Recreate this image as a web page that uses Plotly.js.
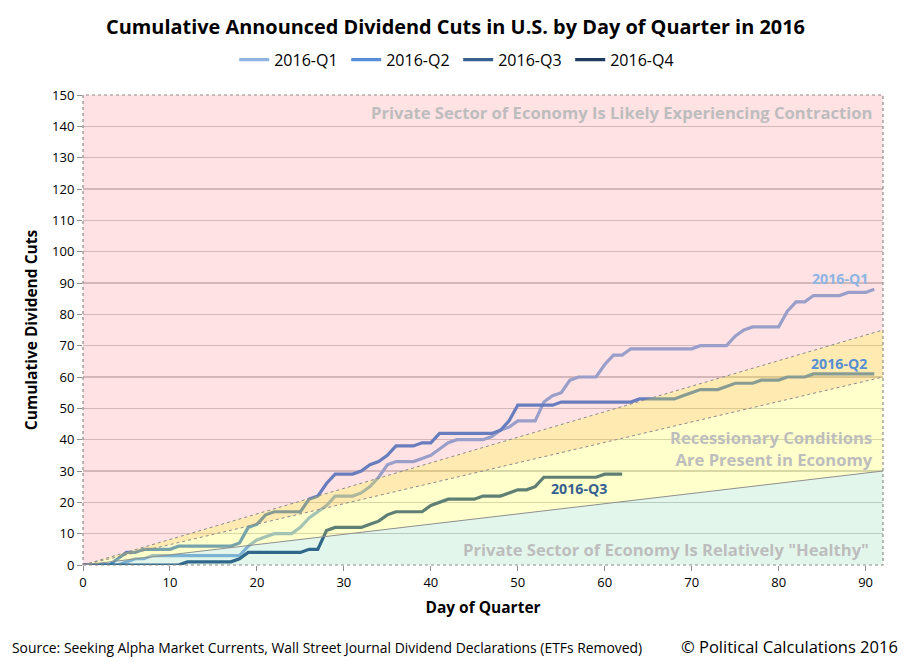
<!DOCTYPE html>
<html>
<head>
<meta charset="utf-8">
<script src="https://cdn.plot.ly/plotly-3.0.1.min.js"></script>
<style>html,body{margin:0;padding:0;background:#fff;}#chart{width:911px;height:662px;}</style>
</head>
<body>
<div id="chart"></div>
<script>
// ---- data ----
const seriesNames = ["2016-Q1", "2016-Q2", "2016-Q3", "2016-Q4"];
const q1Values = [0,0,0,0,0,1,2,2,3,3,3,3,3,3,3,3,3,3,3,6,8,9,10,10,10,12,15,17,19,22,22,22,23,25,28,32,33,33,33,34,35,37,39,40,40,40,40,41,43,44,46,46,46,52,54,55,59,60,60,60,64,67,67,69,69,69,69,69,69,69,69,70,70,70,70,73,75,76,76,76,76,81,84,84,86,86,86,86,87,87,87,88];
const q2Values = [0,0,0,0,2,4,4,5,5,5,5,6,6,6,6,6,6,6,7,12,13,16,17,17,17,17,21,22,26,29,29,29,30,32,33,35,38,38,38,39,39,42,42,42,42,42,42,42,43,46,51,51,51,51,51,52,52,52,52,52,52,52,52,52,53,53,53,53,53,54,55,56,56,56,57,58,58,58,59,59,59,60,60,60,61,61,61,61,61,61,61,61];
const q3Values = [0,0,0,0,0,0,0,0,0,0,0,0,1,1,1,1,1,1,2,4,4,4,4,4,4,4,5,5,11,12,12,12,12,13,14,16,17,17,17,17,19,20,21,21,21,21,22,22,22,23,24,24,25,28,28,28,28,28,28,28,29,29,29];
const q4Values = [0];
const seriesColors = ["#8DB4E2", "#558ED5", "#376092", "#1F3A5F"];
const xTickValues = [0,10,20,30,40,50,60,70,80,90];
const yTickValues = [0,10,20,30,40,50,60,70,80,90,100,110,120,130,140,150];
const xMax = 92;
const yMax = 150;
// band boundaries (cumulative cuts reached at end of quarter)
const bandUpper = 75;   // contraction threshold
const bandMiddle = 60;
const bandLower = 30;   // healthy threshold

function days(arr){ return arr.map((_, i) => i); }
const allValues = [q1Values, q2Values, q3Values, q4Values];

const traces = allValues.map((vals, k) => ({
  type: "scatter",
  mode: "lines",
  name: seriesNames[k],
  x: days(vals),
  y: vals,
  line: {color: seriesColors[k], width: 3.2},
  hoverinfo: "skip"
}));

function band(lo, hi, color){
  return {
    type: "path", xref: "x", yref: "y", layer: "above",
    path: `M 0 0 L ${xMax} ${lo} L ${xMax} ${hi} Z`,
    fillcolor: color, line: {width: 0}
  };
}
function ray(v, dash, color){
  return {type: "line", xref: "x", yref: "y", layer: "above", x0: 0, y0: 0, x1: xMax, y1: v,
    line: {color: color, width: 1, dash: dash}};
}

const shapes = [
  {type: "path", xref: "x", yref: "y", layer: "above",
   path: `M 0 0 L ${xMax} ${bandUpper} L ${xMax} ${yMax} L 0 ${yMax} Z`,
   fillcolor: "rgba(255,0,20,0.115)", line: {width: 0}},
  band(bandMiddle, bandUpper, "rgba(255,190,0,0.30)"),
  band(bandLower, bandMiddle, "rgba(255,255,0,0.20)"),
  band(0, bandLower, "rgba(0,176,80,0.11)"),
  ray(bandUpper, "dot", "#8a8a8a"),
  ray(bandMiddle, "dot", "#8a8a8a"),
  ray(bandLower, "solid", "#8f8f8f"),
  {type: "rect", xref: "paper", yref: "paper", layer: "above", x0: 0, x1: 1, y0: 0, y1: 1,
   line: {color: "#8c8c8c", width: 1.2, dash: "dot"}, fillcolor: "rgba(0,0,0,0)"}
];

const FONT = "'Open Sans', 'DejaVu Sans', sans-serif";
const bandTextColor = "#BDBDBD";

const annotations = [
  {xref: "x", yref: "y", x: 91.05, y: 144.3, xanchor: "right", yanchor: "middle", showarrow: false,
   text: "<b>Private Sector of Economy Is Likely Experiencing Contraction</b>",
   font: {family: FONT, size: 16.6, color: bandTextColor}},
  {xref: "x", yref: "y", x: 91.05, y: 37.1, xanchor: "right", yanchor: "middle", align: "right", showarrow: false,
   text: "<b>Recessionary Conditions</b><br><b>Are Present in Economy</b>",
   font: {family: FONT, size: 16.6, color: bandTextColor}},
  {xref: "x", yref: "y", x: 90.6, y: 5.1, xanchor: "right", yanchor: "middle", showarrow: false,
   text: "<b>Private Sector of Economy Is Relatively \"Healthy\"</b>",
   font: {family: FONT, size: 16.6, color: bandTextColor}},
  {xref: "x", yref: "y", x: 87.1, y: 91.3, showarrow: false, text: "<b>2016-Q1</b>",
   font: {family: FONT, size: 14.2, color: seriesColors[0]}},
  {xref: "x", yref: "y", x: 86.9, y: 64.2, showarrow: false, text: "<b>2016-Q2</b>",
   font: {family: FONT, size: 14.2, color: seriesColors[1]}},
  {xref: "x", yref: "y", x: 57.0, y: 24.3, showarrow: false, text: "<b>2016-Q3</b>",
   font: {family: FONT, size: 14.2, color: seriesColors[2]}},
  {xref: "paper", yref: "paper", x: -73/800, y: -82/470, xanchor: "left", yanchor: "middle", showarrow: false,
   text: "Source: Seeking Alpha Market Currents, Wall Street Journal Dividend Declarations (ETFs Removed)",
   font: {family: FONT, size: 13.9, color: "#000"}},
  {xref: "paper", yref: "paper", x: 1 + 17/800, y: -81/470, xanchor: "right", yanchor: "middle", showarrow: false,
   text: "© Political Calculations 2016",
   font: {family: FONT, size: 16.5, color: "#000"}}
];

const layout = {
  width: 911, height: 662,
  margin: {l: 83, r: 28, t: 95, b: 97},
  paper_bgcolor: "#fff", plot_bgcolor: "#fff",
  font: {family: FONT, color: "#000"},
  title: {text: "<b>Cumulative Announced Dividend Cuts in U.S. by Day of Quarter in 2016</b>",
          x: 0.5, xanchor: "center", y: 0.959, yanchor: "middle",
          font: {family: FONT, size: 19.9, color: "#000"}},
  showlegend: true,
  legend: {orientation: "h", x: 0.469, xanchor: "center", y: 1.075, yanchor: "middle",
           font: {family: FONT, size: 16, color: "#000"}, itemwidth: 30, bgcolor: "rgba(0,0,0,0)",
           entrywidth: 67, entrywidthmode: "pixels", traceorder: "normal"},
  xaxis: {range: [0, xMax], tickvals: xTickValues, ticktext: xTickValues.map(String),
          showgrid: false, zeroline: false, showline: false,
          ticks: "outside", ticklen: 5, tickcolor: "#8c8c8c", tickwidth: 1,
          tickfont: {family: FONT, size: 13, color: "#000"},
          title: {text: "<b>Day of Quarter</b>", standoff: 12, font: {family: FONT, size: 15.5, color: "#000"}}},
  yaxis: {range: [0, yMax], tickvals: yTickValues, ticktext: yTickValues.map(String),
          showgrid: true, gridcolor: "#CFCFCF", gridwidth: 1.3, zeroline: false, showline: false,
          ticks: "outside", ticklen: 5, tickcolor: "#8c8c8c", tickwidth: 1,
          tickfont: {family: FONT, size: 13, color: "#000"},
          title: {text: "<b>Cumulative Dividend Cuts</b>", standoff: 10, font: {family: FONT, size: 15.5, color: "#000"}}},
  shapes: shapes,
  annotations: annotations
};

Plotly.newPlot("chart", traces, layout, {displayModeBar: false, staticPlot: true});
</script>
</body>
</html>
